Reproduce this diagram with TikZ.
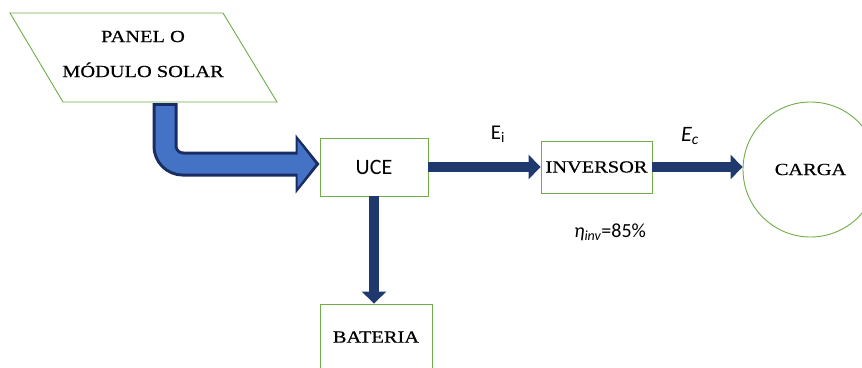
\documentclass[tikz,border=0pt]{standalone}
\usepackage{fontspec}
\setmainfont{Liberation Serif}[FakeBold=0.5]
\newfontfamily\carlitofont{Carlito}
\usetikzlibrary{arrows.meta,calc}
\definecolor{boxgreen}{RGB}{112,173,71}
\definecolor{navy}{RGB}{31,56,110}
\definecolor{lightarrow}{RGB}{68,114,196}
\definecolor{darkarrow}{RGB}{25,45,100}
\tikzset{
  gbox/.style={draw=boxgreen, line width=0.9pt, inner sep=0pt, fill=white},
  serif/.style={font=\fontsize{17}{20}\selectfont},
  flow/.style={draw=navy, line width=10.5pt, line cap=butt, -{Triangle[width=24pt,length=12pt]}},
}
\newcommand{\wide}[1]{\scalebox{1.2}[1]{#1}}
\begin{document}
\begin{tikzpicture}[x=1pt,y=-1pt]
\useasboundingbox (0,0) rectangle (862,367);
% panel (parallelogram)
\draw[boxgreen, line width=0.9pt, fill=white] (10,13) -- (223,13) -- (277,102) -- (63,102) -- cycle;
\node[serif, align=center] (panel) at (143,54) {\wide{PANEL O}\\[15pt]\wide{MÓDULO SOLAR}};
\coordinate (pout) at (165,103);
% boxes
\node[gbox, minimum width=108pt, minimum height=58pt, font=\carlitofont\fontsize{22}{24}\selectfont] (uce) at (374,167) {UCE};
\node[gbox, minimum width=111pt, minimum height=52pt, serif] (inv) at (596.5,167) {\wide{INVERSOR}};
\node[gbox, minimum width=112pt, minimum height=66pt, serif] (bat) at (376,337) {\wide{BATERIA}};
\node[gbox, circle, minimum size=135pt, serif] (carga) at (810.5,169.5) {\wide{CARGA}};
% bent arrow from panel to UCE
\draw[darkarrow, line width=25pt, rounded corners=18pt, line cap=butt,
      -{Triangle[width=58pt,length=24pt]}]
  (pout) |- ($(uce.west)+(0,-3)$);
\draw[lightarrow, line width=19pt, rounded corners=18pt, line cap=butt, shorten >=4pt,
      -{Triangle[width=46pt,length=18pt]}]
  ($(pout)+(0,3)$) |- ($(uce.west)+(0,-3)$);
% flow arrows
\draw[flow] (uce.east) -- (inv.west);
\draw[flow] (inv.east) -- (inv.east -| carga.west);
\draw[flow] (uce.south) -- (uce.south |- bat.north);
% labels
\node[font=\carlitofont\fontsize{21}{22}\selectfont] (ei) at (498,134) {E\textsubscript{i}};
\node[font=\carlitofont\fontsize{22}{22}\selectfont] (ec) at (690,136) {\itshape E\textsubscript{c}};
\node[font=\carlitofont\fontsize{20}{20}\selectfont] (eta) at (610,232) {{\itshape η\textsubscript{inv}}=85\%};
\end{tikzpicture}
\end{document}
